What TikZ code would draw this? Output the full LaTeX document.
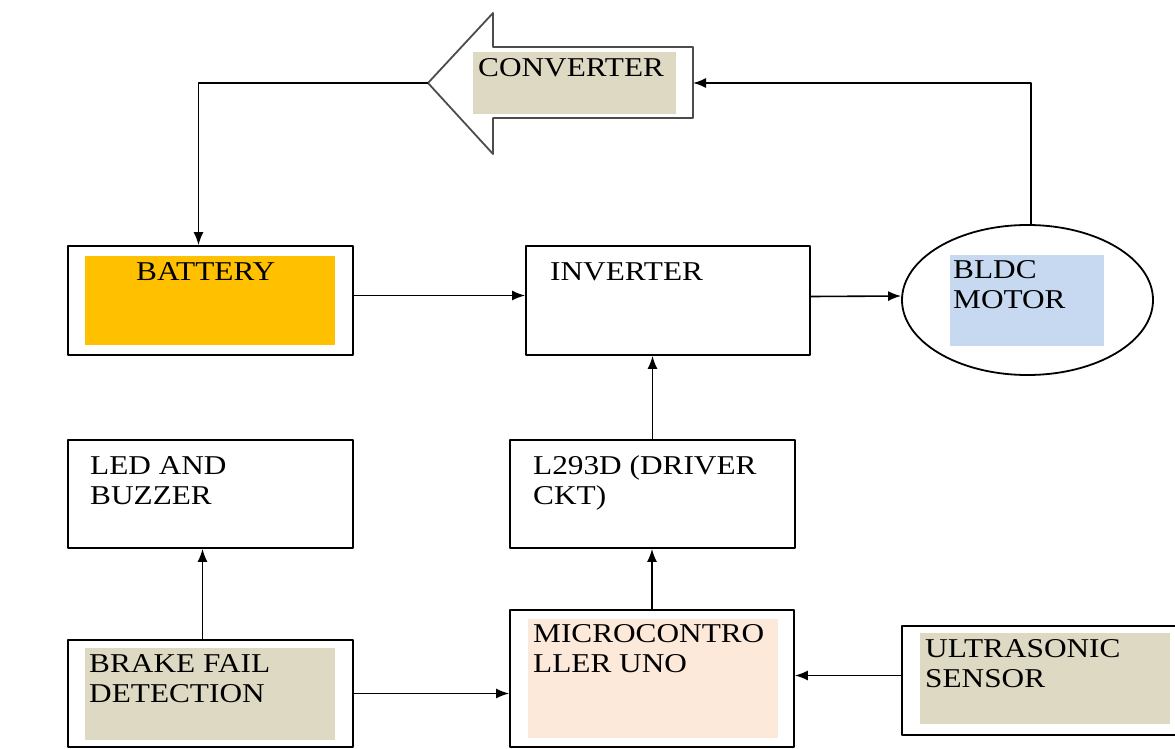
\documentclass[tikz,border=0pt]{standalone}
\usepackage{fontspec}
\setmainfont[FakeStretch=1.15]{Liberation Serif}
\usetikzlibrary{arrows.meta,shapes.geometric}
\definecolor{bgtan}{HTML}{DDD9C3}
\definecolor{bgorange}{HTML}{FFC000}
\definecolor{bgblue}{HTML}{C6D9F1}
\definecolor{bgpeach}{HTML}{FDE9D9}
\begin{document}
\begin{tikzpicture}[x=1pt,y=-1pt,>={Latex[length=13pt,width=10pt]},line join=round,
	font=\fontsize{27.2}{30}\selectfont,
	blk/.style={draw,line width=1.8pt,inner sep=0pt,minimum width=#1},
	lbl/.style={anchor=north west,align=left,inner sep=0pt},
	link/.style={->,line width=1.6pt}]
	\useasboundingbox (0,0) rectangle (1175,749);
	% colour patches behind the labels
	\fill[bgtan] (473,52) rectangle (676,114);
	\fill[bgorange] (85,256) rectangle (335,345);
	\fill[bgblue] (950,255) rectangle (1104,346);
	\fill[bgtan] (85,648) rectangle (335,740);
	\fill[bgpeach] (528,619) rectangle (778,738);
	\fill[bgtan] (920,633) rectangle (1170,724);
	% converter block arrow
	\draw[line width=1.8pt,black!70] (428,83)--(493,13)--(493,47)--(693,47)--(693,118)--(493,118)--(493,154)--cycle;
	\coordinate (conv-tip) at (428,83);
	\coordinate (conv-tail) at (693,83);
	\node[lbl] at (478,58) {CONVERTER};
	% blocks
	\node[blk=285pt,minimum height=109pt] (bat) at (210.5,300.5) {};
	\node[blk=284pt,minimum height=109pt] (inv) at (668,300.5) {};
	\node[blk=251pt,minimum height=150pt,ellipse] (motor) at (1027.5,300) {};
	\node[blk=285pt,minimum height=108pt] (led) at (210.5,494) {};
	\node[blk=285pt,minimum height=108pt] (drv) at (652.5,494) {};
	\node[blk=285pt,minimum height=107pt] (brake) at (210.5,693.5) {};
	\node[blk=284pt,minimum height=137pt] (mcu) at (652,678.5) {};
	\node[blk=280pt,minimum height=109pt] (ultra) at (1042,680.5) {};
	\node[lbl] at (136,262) {BATTERY};
	\node[lbl] at (550,262) {INVERTER};
	\node[lbl] at (953,260) {BLDC\\MOTOR};
	\node[lbl] at (90,456) {LED AND\\BUZZER};
	\node[lbl] at (533,455) {L293D (DRIVER\\CKT)};
	\node[lbl] at (89,654) {BRAKE FAIL\\DETECTION};
	\node[lbl] at (533,624) {MICROCONTRO\\LLER UNO};
	\node[lbl] at (925,639) {ULTRASONIC\\SENSOR};
	% connections
	\draw[link] ([xshift=3.5pt]motor.north)|-(conv-tail);
	\draw[link] (conv-tip)-|([xshift=-12pt]bat.north);
	\draw[link] ([yshift=5pt]bat.east)--([yshift=5pt]inv.west);
	\draw[link] ([yshift=4pt]inv.east)--([yshift=4pt]motor.west);
	\draw[link] (drv.north)--(drv.north|-inv.south);
	\draw[link] (mcu.north)--(mcu.north|-drv.south);
	\draw[link] ([xshift=-8pt]brake.north)--([xshift=-8pt]led.south);
	\draw[link] (brake.east)--(brake.east-|mcu.west);
	\draw[link] ([yshift=5pt]ultra.west)--([yshift=5pt]ultra.west-|mcu.east);
\end{tikzpicture}
\end{document}
